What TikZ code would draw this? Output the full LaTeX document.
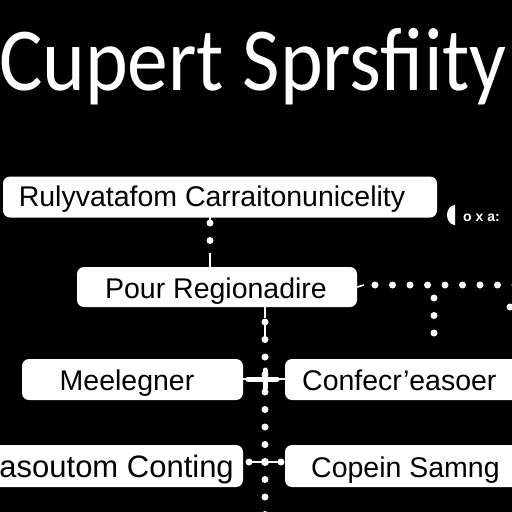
\documentclass[tikz,border=0pt]{standalone}
\usepackage{fontspec}
\setmainfont{Liberation Sans}
\newfontfamily\titlefont{Carlito}
\begin{document}
\begin{tikzpicture}[x=1pt,y=-1pt,
  box/.style={fill=white, rounded corners=7pt, draw=none, inner sep=0pt},
  boxtext/.style={inner sep=0pt, text=black, font=\fontsize{28.5}{30}\selectfont},
  dotted line/.style={white, line width=7pt, line cap=round, dash pattern=on 0pt off 17.5pt},
  thin link/.style={white, line width=1.6pt},
  cross/.style={white, line width=5pt, line cap=round}]
\fill[black] (0,0) rectangle (512,512);
\useasboundingbox (0,0) rectangle (512,512);

% title
\node[anchor=base, text=white, inner sep=0pt] (title) at (253,90)
  {\scalebox{0.905}[1]{\titlefont\fontsize{90}{90}\selectfont Cupert Sprsfiity}};

% boxes
\node[box, minimum width=434pt, minimum height=41pt] (b1) at (220,197) {};
\node[boxtext, anchor=base] (t1) at (212,206) {Rulyvatafom Carraitonunicelity};

\node[box, minimum width=280pt, minimum height=40pt] (b2) at (217,287) {};
\node[boxtext, anchor=base] (t2) at (216,298) {Pour Regionadire};

\node[box, minimum width=221pt, minimum height=41pt] (b3) at (132.5,379.5) {};
\node[boxtext, anchor=base] (t3) at (127,390) {Meelegner};

\node[box, minimum width=240pt, minimum height=41pt] (b4) at (405,379.5) {};
\node[boxtext, anchor=base west] (t4) at (302,390) {Confecr'easoer};

\node[box, minimum width=260pt, minimum height=42pt] (b5) at (113,466) {};
\node[boxtext, anchor=base east, font=\fontsize{31}{33}\selectfont] (t5) at (234,477) {asoutom Conting};

\node[box, minimum width=240pt, minimum height=42pt] (b6) at (405,466) {};
\node[boxtext, anchor=base west] (t6) at (311,477) {Copein Samng};

% small element right of box 1
\fill[white] (455,205) arc (90:270:8pt and 10pt) -- cycle;
\node[anchor=base west, text=white, inner sep=0pt, font=\bfseries\fontsize{14}{15}\selectfont] (oxa) at (463,221) {o x a:};

% coordinates
\coordinate (c1) at (210,217);
\coordinate (c2) at (210,267);
\coordinate (v0) at (265,307);
\coordinate (vend) at (265,520);
\coordinate (j1) at (265,379);
\coordinate (j2) at (265,462);
\coordinate (hr) at (520,285);
\coordinate (br) at (434,298);
\coordinate (brend) at (434,350);

% box1 -> box2
\draw[dotted line] (210,223) -- (210,252);
\draw[thin link] (c1) -- (210,222);
\draw[thin link] (210,253) -- (c2);

% main vertical
\draw[thin link] (v0) -- (265,318);
\draw[dotted line] (265,322) -- (vend);
\draw[thin link] (265,322) -- (265,340);

% crosses
\draw[cross] (248,379) -- (277,379);
\draw[thin link] (b3.east |- j1) -- (248,379);
\draw[thin link] (277,379) -- (b4.west |- j1);
\draw[cross] (265,370) -- (265,388);
\fill[white] (249,462) circle (3.5pt);
\fill[white] (281,462) circle (3.5pt);
\draw[thin link] (249,462) -- (281,462);
\fill[white] (j2) circle (4pt);

% right horizontal from box2
\draw[thin link] (b2.east) -- (364,285);
\draw[dotted line] (375,285) -- (hr);
\draw[dotted line] (br) -- (brend);
\fill[white] (510,307) circle (3.5pt);
\end{tikzpicture}
\end{document}
